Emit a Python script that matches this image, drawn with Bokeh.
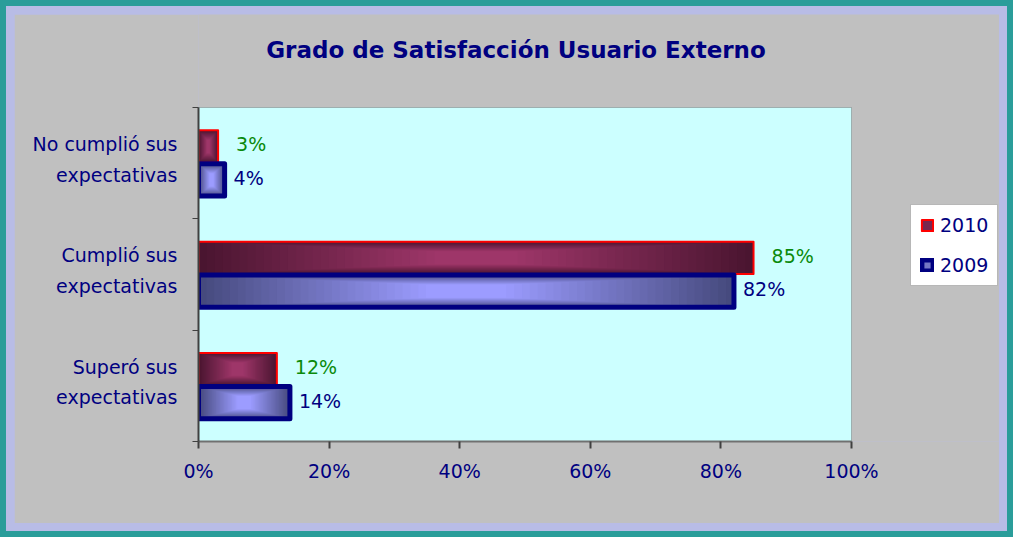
from bokeh.plotting import figure
from bokeh.layouts import column
from bokeh.models import (Range1d, FixedTicker, Legend, LegendItem, ColumnDataSource,
                          Label, BoxAnnotation)
from bokeh.core.properties import value
from bokeh.embed import file_html
from bokeh.resources import INLINE

# ---------------- data ----------------
title_text = "Grado de Satisfacción Usuario Externo"
categories = ["No cumplió sus\nexpectativas", "Cumplió sus\nexpectativas", "Superó sus\nexpectativas"]  # top -> bottom
series_names = ["2010", "2009"]
values_2010 = [3, 85, 12]
values_2009 = [4, 82, 14]
x_ticks = [0, 20, 40, 60, 80, 100]
x_tick_labels = ["0%", "20%", "40%", "60%", "80%", "100%"]
x_max = 100

# ---------------- style / geometry ----------------
FONT = "DejaVu Sans"
NAVY = "#000080"
GREEN = "#0A8A0A"
GRAY = "#C0C0C0"
LAVENDER = "#B8BCE6"
CANVAS_W, CANVAS_H = 985, 509
BORDER_L, BORDER_B = 184, 82
PLOT_W, PLOT_H = 653, 334          # pixel size of the cyan plotting area
LABEL_SHIFT = 0.035                # category labels sit slightly above band centre

def mix(c1, c2, t):
    a = [int(c1[i:i + 2], 16) for i in (1, 3, 5)]
    b = [int(c2[i:i + 2], 16) for i in (1, 3, 5)]
    return "#" + "".join(f"{round(x + (y - x) * t):02x}" for x, y in zip(a, b))

n = len(categories)
y_centers = [n - 0.5 - i for i in range(n)]
BAR_H = 0.29
OFFS = [0.15, -0.15]

frame_w = CANVAS_W - BORDER_L
frame_h = CANVAS_H - BORDER_B
x_end = x_max * frame_w / PLOT_W
y_end = n * frame_h / PLOT_H
px_y = PLOT_H / n

series = [
    dict(name=series_names[0], vals=values_2010, edge="#4A1530", center="#9E3669",
         line="#FF0000", lw=2, lab_col=GREEN, lab_off=18),
    dict(name=series_names[1], vals=values_2009, edge="#464A7E", center="#9C9CFF",
         line=NAVY, lw=5, lab_col=NAVY, lab_off=9),
]

p = figure(width=CANVAS_W, height=CANVAS_H, x_range=Range1d(0, x_end), y_range=Range1d(0, y_end),
           output_backend="svg", toolbar_location=None,
           min_border_left=BORDER_L, min_border_right=0, min_border_top=0,
           min_border_bottom=BORDER_B,
           background_fill_color=GRAY, border_fill_color=GRAY,
           outline_line_color=None)
p.grid.visible = False

# cyan plotting area
p.add_layout(BoxAnnotation(left=0, right=x_max, bottom=0, top=n, fill_color="#CCFFFF",
                           fill_alpha=1.0, line_color="#404040", line_width=1,
                           level="underlay"))

# axes
p.xaxis.bounds = (0, x_max)
p.xaxis.ticker = FixedTicker(ticks=x_ticks)
p.xaxis.major_label_overrides = dict(zip(x_ticks, x_tick_labels))
p.xaxis.major_label_text_font = FONT
p.xaxis.major_label_text_font_size = "19px"
p.xaxis.major_label_text_color = NAVY
p.xaxis.major_label_standoff = 11
p.xaxis.axis_line_color = "#707070"
p.xaxis.axis_line_width = 2
p.xaxis.major_tick_line_color = "#404040"
p.xaxis.major_tick_line_width = 2
p.xaxis.major_tick_out = 7
p.xaxis.major_tick_in = 0
p.xaxis.minor_tick_line_color = None

label_pos = [y + LABEL_SHIFT for y in y_centers]
p.yaxis.bounds = (0, n)
p.yaxis.ticker = FixedTicker(ticks=label_pos, minor_ticks=list(range(n + 1)))
p.yaxis.major_label_overrides = dict(zip(label_pos, categories))
p.yaxis.major_label_text_font = FONT
p.yaxis.major_label_text_font_size = "19px"
p.yaxis.major_label_text_color = NAVY
p.yaxis.major_label_text_line_height = 1.4
p.yaxis.major_label_standoff = 15
p.yaxis.axis_line_color = "#404040"
p.yaxis.axis_line_width = 2
p.yaxis.major_tick_line_color = None
p.yaxis.major_tick_out = 0
p.yaxis.major_tick_in = 0
p.yaxis.minor_tick_line_color = "#404040"
p.yaxis.minor_tick_out = 6
p.yaxis.minor_tick_in = 0

legend_items = []
NL = 30
for s, off in zip(series, OFFS):
    ys = [y + off for y in y_centers]
    vals = s["vals"]
    src = ColumnDataSource(dict(y=ys, right=vals, left=[0] * n,
                                lab=[f"{v}%" for v in vals]))
    p.hbar(y="y", left="left", right="right", height=BAR_H, source=src,
           fill_color=s["edge"], line_color=None)
    layers = []
    for k in range(1, NL):
        t = k / (NL - 1)
        wf = 1 - 0.85 * t
        hf = 1 - 0.6 * t
        lsrc = ColumnDataSource(dict(y=ys,
                                     left=[v / 2 * (1 - wf) for v in vals],
                                     right=[v / 2 * (1 + wf) for v in vals]))
        r = p.hbar(y="y", left="left", right="right", height=BAR_H * hf, source=lsrc,
                   fill_color=mix(s["edge"], s["center"], t), line_color=None)
        layers.append(r)
    outline = p.hbar(y="y", left="left", right="right", height=BAR_H, source=src,
                     fill_color=None, line_color=s["line"], line_width=s["lw"],
                     line_join="round")
    p.text(x="right", y="y", text="lab", source=src, x_offset=s["lab_off"], y_offset=-2,
           text_align="left", text_baseline="middle", text_color=s["lab_col"],
           text_font=value(FONT), text_font_size="19px")
    legend_items.append(LegendItem(label=s["name"], renderers=[layers[NL // 2], outline]))

legend = Legend(items=legend_items, location=(712, 155), orientation="vertical",
                background_fill_color="white", background_fill_alpha=1.0,
                border_line_color="#707070", border_line_width=1,
                label_text_font=FONT, label_text_font_size="19px", label_text_color=NAVY,
                glyph_width=14, glyph_height=14, label_standoff=6,
                padding=9, spacing=18, margin=0)
p.add_layout(legend)

# title (inside the frame area, above the plotting box)
p.add_layout(Label(x=x_max / 2, y=n + 58 / px_y, x_offset=-9, text=title_text,
                   text_align="center", text_baseline="middle", text_font=FONT,
                   text_font_size="23px", text_font_style="bold", text_color=NAVY))

inner = column(p, styles={"border": "8px solid " + LAVENDER, "background-color": LAVENDER})
layout = column(inner, styles={"border": "6px solid #2A9D9A", "background-color": LAVENDER})

open("out.html", "w").write(file_html(layout, INLINE))
